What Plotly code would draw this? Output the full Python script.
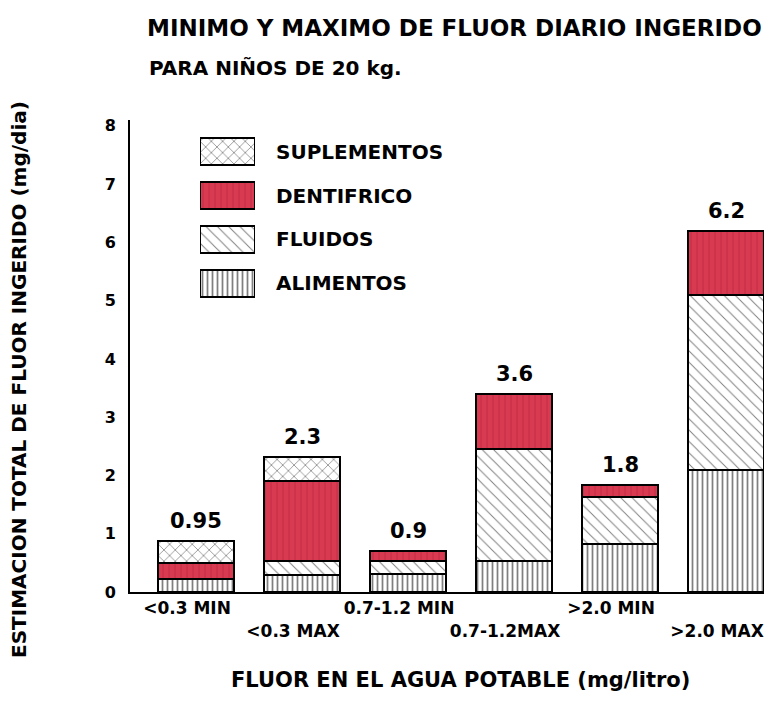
import plotly.graph_objects as go

# ---- data ----
categories = ["<0.3 MIN", "<0.3 MAX", "0.7-1.2 MIN", "0.7-1.2MAX", ">2.0 MIN", ">2.0 MAX"]
alimentos = [0.22, 0.30, 0.31, 0.54, 0.83, 2.09]
fluidos = [0.00, 0.23, 0.22, 1.92, 0.80, 3.00]
dentifrico = [0.28, 1.37, 0.17, 0.94, 0.21, 1.10]
suplementos = [0.37, 0.42, 0.00, 0.00, 0.00, 0.00]
total_labels = ["0.95", "2.3", "0.9", "3.6", "1.8", "6.2"]
series_names = ["ALIMENTOS", "FLUIDOS", "DENTIFRICO", "SUPLEMENTOS"]
y_ticks = [0, 1, 2, 3, 4, 5, 6, 7, 8]

FONT = "DejaVu Sans"
RED = "#d83a52"

styles = {
    "ALIMENTOS": dict(color="white", pattern=dict(shape="|", size=5, solidity=0.35, fgcolor="black", bgcolor="white")),
    "FLUIDOS": dict(color="white", pattern=dict(shape="\\", size=8, solidity=0.12, fgcolor="black", bgcolor="white")),
    "DENTIFRICO": dict(color=RED, pattern=dict(shape="|", size=6, solidity=0.15, fgcolor="#a3182f", fillmode="overlay")),
    "SUPLEMENTOS": dict(color="white", pattern=dict(shape="x", size=8, solidity=0.18, fgcolor="black", bgcolor="white")),
}
values = {"ALIMENTOS": alimentos, "FLUIDOS": fluidos, "DENTIFRICO": dentifrico, "SUPLEMENTOS": suplementos}

def esc(s):
    return s.replace("<", "&lt;").replace(">", "&gt;")

# the page body has an 8px margin: size the figure so nothing overflows the window
W, H = 756, 685
PL, PT, PB = 122, 112, 101          # plot area in figure px (page = figure + 8)
PW, PH = W - PL, H - PT - PB        # 634 x 472

def px_x(page_x):   # page x -> paper x
    return (page_x - 8 - PL) / PW

def px_y(page_y):   # page y -> paper y
    return (H - PB - (page_y - 8)) / PH

idx = list(range(len(categories)))
fig = go.Figure()

for name in series_names:
    st = styles[name]
    fig.add_trace(go.Bar(
        x=idx, y=values[name], name=name,
        marker=dict(color=st["color"], pattern=st["pattern"], line=dict(color="black", width=2)),
        showlegend=False, hoverinfo="skip",
    ))

# custom legend (large swatches) on an inset axis
for name in series_names:
    st = styles[name]
    fig.add_trace(go.Bar(
        x=[1], y=[name], orientation="h", xaxis="x2", yaxis="y2", width=0.62,
        marker=dict(color=st["color"], pattern=st["pattern"], line=dict(color="black", width=2)),
        showlegend=False, hoverinfo="skip",
    ))

totals = [a + f + d + s for a, f, d, s in zip(alimentos, fluidos, dentifrico, suplementos)]
for i, (t, lab) in enumerate(zip(totals, total_labels)):
    fig.add_annotation(x=i, y=t, text=lab, showarrow=False, yanchor="bottom", yshift=6,
                       font=dict(family=FONT, size=21, color="black", weight="bold"))

ticktext = [esc(c) if i % 2 == 0 else "<br>" + esc(c) for i, c in enumerate(categories)]

fig.update_layout(
    width=W, height=H,
    margin=dict(l=PL, r=0, t=PT, b=PB, autoexpand=False),
    paper_bgcolor="white", plot_bgcolor="white",
    barmode="stack", bargap=0.28,
    showlegend=False,
    title=dict(text="MINIMO Y MAXIMO DE FLUOR DIARIO INGERIDO", x=(147 - 8) / W, xanchor="left",
               xref="container", y=1 - (28 - 8) / H, yanchor="middle", yref="container",
               font=dict(family=FONT, size=23, color="black", weight="bold")),
    xaxis=dict(
        range=[-0.623, 5.358], tickmode="array", tickvals=idx, ticktext=ticktext,
        showline=True, linecolor="black", linewidth=2, showgrid=False, zeroline=False,
        ticks="", ticklabelshift=-9, ticklabeloverflow="allow", tickangle=0, automargin=False,
        tickfont=dict(family=FONT, size=17, color="black", weight="bold"),
    ),
    yaxis=dict(
        range=[0, 8.1], tickmode="array", tickvals=y_ticks,
        showline=True, linecolor="black", linewidth=2, showgrid=False, zeroline=False,
        ticks="", ticklabelstandoff=9, automargin=False,
        tickfont=dict(family=FONT, size=16, color="black", weight="bold"),
    ),
    xaxis2=dict(domain=[px_x(200), px_x(255)], range=[0, 1], anchor="y2",
                visible=False, fixedrange=True, automargin=False),
    yaxis2=dict(domain=[px_y(305), px_y(130)], anchor="x2", side="right",
                categoryorder="array", categoryarray=series_names,
                showline=False, showgrid=False, zeroline=False, ticks="",
                ticklabelstandoff=20, automargin=False,
                tickfont=dict(family=FONT, size=20, color="black", weight="bold")),
)

fig.add_annotation(text="PARA NIÑOS DE 20 kg.", xref="paper", yref="paper",
                   x=px_x(147), y=px_y(68), xanchor="left", yanchor="middle",
                   showarrow=False, font=dict(family=FONT, size=20, color="black", weight="bold"))

fig.add_annotation(text="ESTIMACION TOTAL DE FLUOR INGERIDO (mg/dia)", xref="paper", yref="paper",
                   x=px_x(19), y=px_y(380), xanchor="center", yanchor="middle", textangle=-90,
                   showarrow=False, font=dict(family=FONT, size=20, color="black", weight="bold"))

fig.add_annotation(text="FLUOR EN EL AGUA POTABLE (mg/litro)", xref="paper", yref="paper",
                   x=px_x(460), y=px_y(680), xanchor="center", yanchor="middle",
                   showarrow=False, font=dict(family=FONT, size=21, color="black", weight="bold"))

fig.write_html("out.html")
